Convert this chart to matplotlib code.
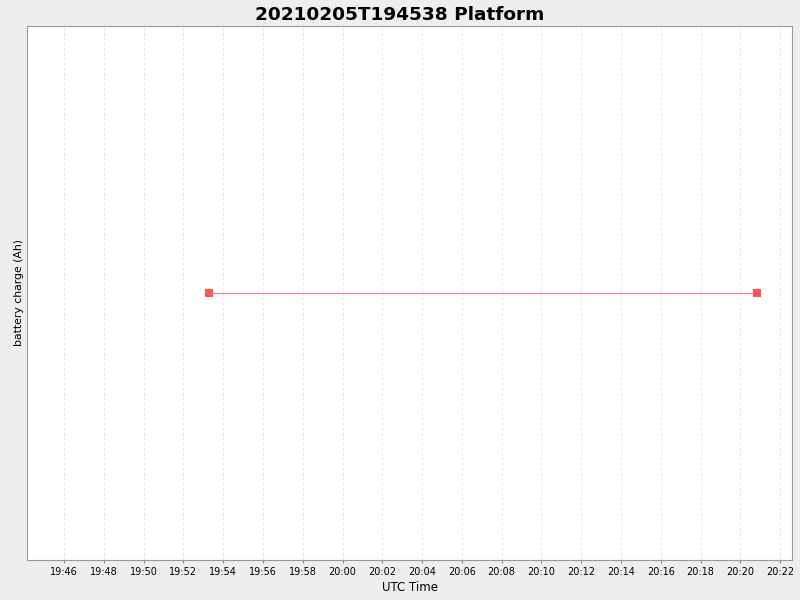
import datetime as dt
import matplotlib
matplotlib.use('Agg')
import matplotlib.pyplot as plt
import matplotlib.dates as mdates

TITLE = '20210205T194538 Platform'
times = [dt.datetime(2021, 2, 5, 19, 53, 17), dt.datetime(2021, 2, 5, 20, 20, 50)]
charge = [0.0, 0.0]
x_start = dt.datetime(2021, 2, 5, 19, 44, 8)
x_end = dt.datetime(2021, 2, 5, 20, 22, 36)

fig = plt.figure(figsize=(8, 6), dpi=100, facecolor='#eeeeee')
ax = fig.add_axes([0.03375, 0.0667, 0.95625, 0.89])
ax.set_facecolor('white')

ax.plot(times, charge, color='#ff5555', linewidth=0.6, marker='s', markersize=5.5,
        markeredgewidth=0, zorder=3)

ax.set_xlim(x_start, x_end)
ax.set_ylim(-1, 1)
ax.xaxis.set_major_locator(mdates.MinuteLocator(byminute=range(0, 60, 2)))
ax.xaxis.set_major_formatter(mdates.DateFormatter('%H:%M'))
ax.set_yticks([])
ax.tick_params(axis='x', labelsize=7, length=2, color='#888888', pad=3)
ax.grid(axis='x', color='#e0e0e0', linestyle=(0, (3, 3)), linewidth=0.6)
for s in ax.spines.values():
    s.set_color('#999999')

fig.suptitle(TITLE, x=0.5, y=0.99, va='top', fontsize=13.3, fontweight='bold')
ax.set_xlabel('UTC Time', fontsize=8.5, labelpad=3)
ax.set_ylabel('battery charge (Ah)', fontsize=7.8, labelpad=2)

fig.savefig('out.png', dpi=100, facecolor=fig.get_facecolor())
